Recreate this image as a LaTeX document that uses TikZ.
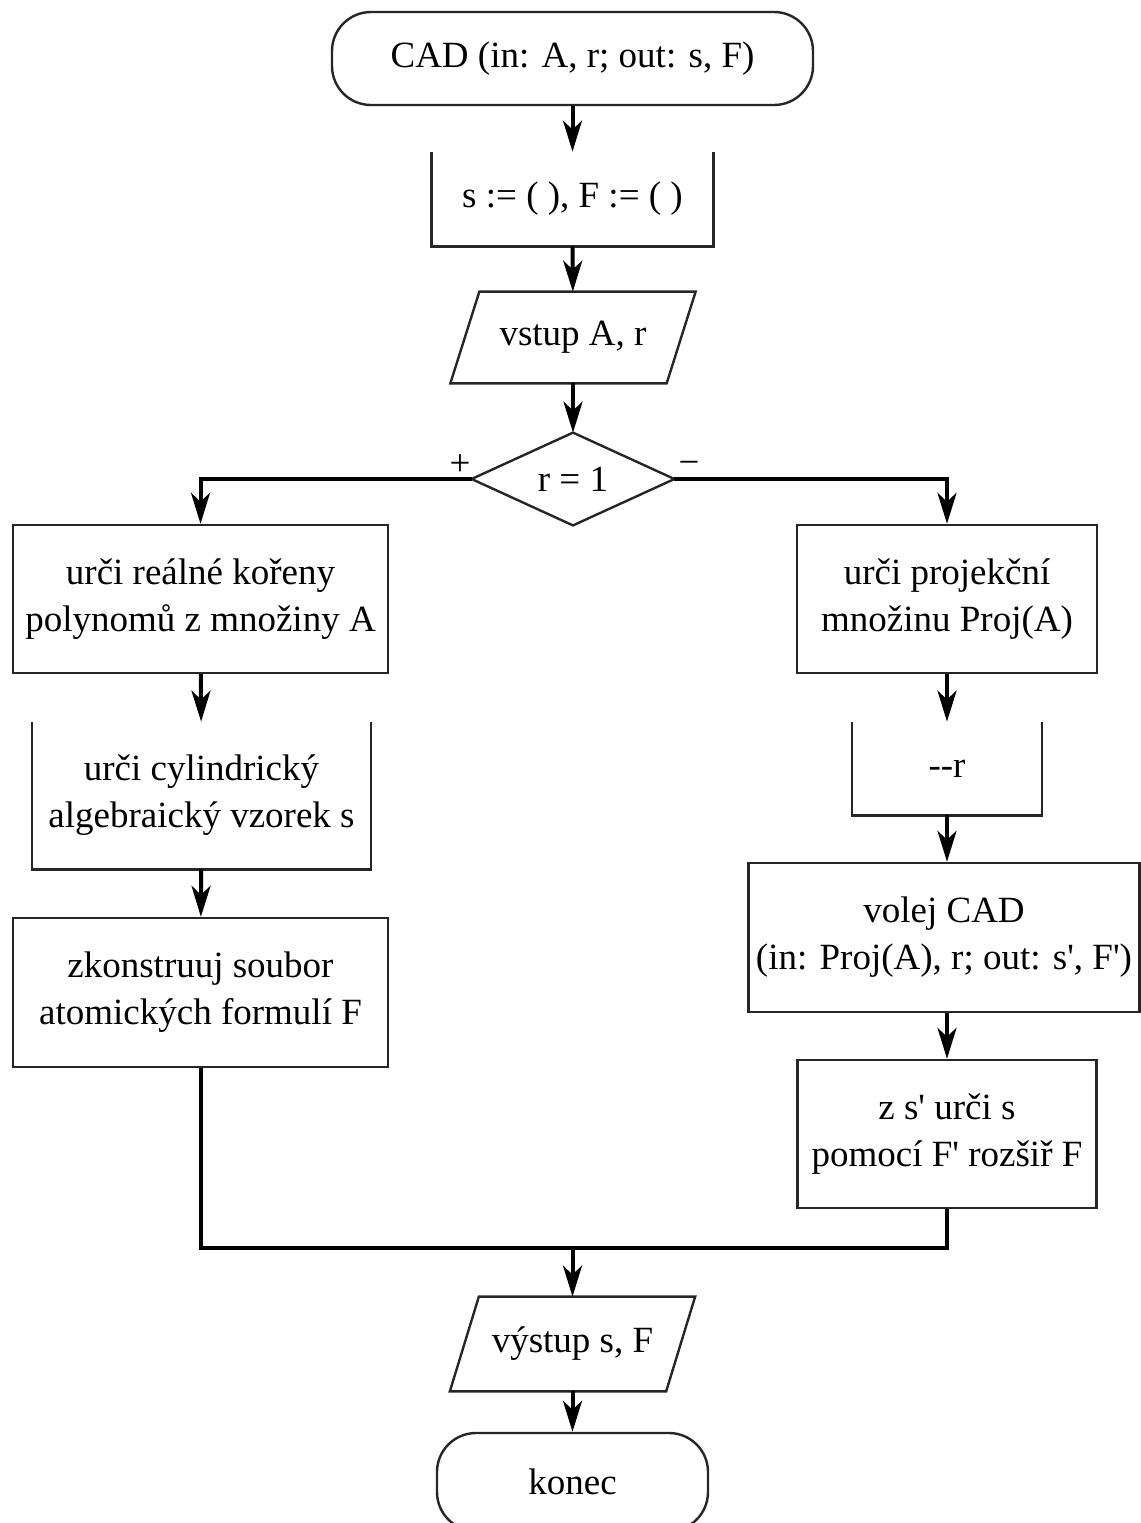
\documentclass[tikz,border=0pt]{standalone}
\usepackage{fontspec}
\setmainfont{Liberation Serif}[Ligatures=TeXOff]
\usetikzlibrary{arrows.meta,calc}

\tikzset{
  every node/.style={font=\fontsize{18.5pt}{23.5pt}\selectfont, align=center, inner sep=0pt},
  frame/.style={draw=black!85, line width=1.2pt},
  box/.style={rectangle, frame},
  openbox/.style={rectangle},
  term/.style={rectangle, frame, rounded corners=19.5pt},
  iobox/.style={rectangle},
  decbox/.style={rectangle},
  conn/.style={line width=2pt, black},
  arr/.style={conn, -{Stealth[length=15.5pt,width=9.5pt,inset=4.5pt]}},
}

\begin{document}
\begin{tikzpicture}[x=0.5pt, y=-0.5pt]
\useasboundingbox (0,0) rectangle (1141,1523);

% start terminator
\node[term, minimum width=240.5pt, minimum height=46.5pt] (start) at (572.5,58.5)
  {CAD (in: A, r; out: s, F)};

% initialisation (box open at the top)
\node[openbox, minimum width=140.5pt, minimum height=47pt] (init) at (572.5,199) {s := ( ), F := ( )};
\draw[frame] (init.north west) -- (init.south west) -- (init.south east) -- (init.north east);

% input
\node[iobox, minimum width=107.75pt, minimum height=45.5pt] (in) at (573,337.5) {vstup A, r};
\draw[frame] ($(in.north west)+(14.5,0)$) -- ($(in.north east)+(14.5,0)$)
  -- ($(in.south east)+(-14.5,0)$) -- ($(in.south west)+(-14.5,0)$) -- cycle;

% decision
\node[decbox, minimum width=101pt, minimum height=46pt] (dec) at (573,479) {r = 1};
\draw[frame] (dec.north) -- (dec.east) -- (dec.south) -- (dec.west) -- cycle;
\node (plus) at (460,465) {+};
\node (minus) at (689,468) {−};

% left branch (r = 1)
\node[box, minimum width=187.5pt, minimum height=74pt] (L1) at (200.5,599)
  {urči reálné kořeny\\polynomů z množiny A};
\node[openbox, minimum width=169pt, minimum height=73.5pt] (L2) at (201.5,795.5)
  {urči cylindrický\\algebraický vzorek s};
\draw[frame] (L2.north west) -- (L2.south west) -- (L2.south east) -- (L2.north east);
\node[box, minimum width=187.5pt, minimum height=74.5pt] (L3) at (200.5,992.5)
  {zkonstruuj soubor\\atomických formulí F};

% right branch (r > 1)
\node[box, minimum width=150pt, minimum height=74pt] (R1) at (947,599)
  {urči projekční\\množinu Proj(A)};
\node[openbox, minimum width=94.5pt, minimum height=46.5pt] (R2) at (947,768.5) {-{}-r};
\draw[frame] (R2.north west) -- (R2.south west) -- (R2.south east) -- (R2.north east);
\node[box, minimum width=195.5pt, minimum height=74.5pt] (R3) at (944,937.5)
  {volej CAD\\(in: Proj(A), r; out: s', F')};
\node[box, minimum width=149.5pt, minimum height=74pt] (R4) at (947,1134)
  {z s' urči s\\pomocí F' rozšiř F};

% output
\node[iobox, minimum width=107.75pt, minimum height=47pt] (out) at (572.5,1344) {výstup s, F};
\draw[frame] ($(out.north west)+(14.5,0)$) -- ($(out.north east)+(14.5,0)$)
  -- ($(out.south east)+(-14.5,0)$) -- ($(out.south west)+(-14.5,0)$) -- cycle;

% end terminator
\node[term, minimum width=135.5pt, minimum height=49pt] (end) at (572.5,1482) {konec};

% connectors
\coordinate (join) at (572.5,1248);
\draw[arr] (start) -- (init);
\draw[arr] (init) -- (in);
\draw[arr] (in) -- (dec);
\draw[arr] (dec.west) -| (L1.north);
\draw[arr] (dec.east) -| (R1.north);
\draw[arr] (L1) -- (L2);
\draw[arr] (L2) -- (L3);
\draw[arr] (R1) -- (R2);
\draw[arr] (R2) -- (R3.north -| R2.south);
\draw[arr] (R3.south -| R4.north) -- (R4);
\draw[conn] (L3.south) |- (join) -| (R4.south);
\draw[arr] (join) -- (out);
\draw[arr] (out) -- (end);
\end{tikzpicture}
\end{document}
